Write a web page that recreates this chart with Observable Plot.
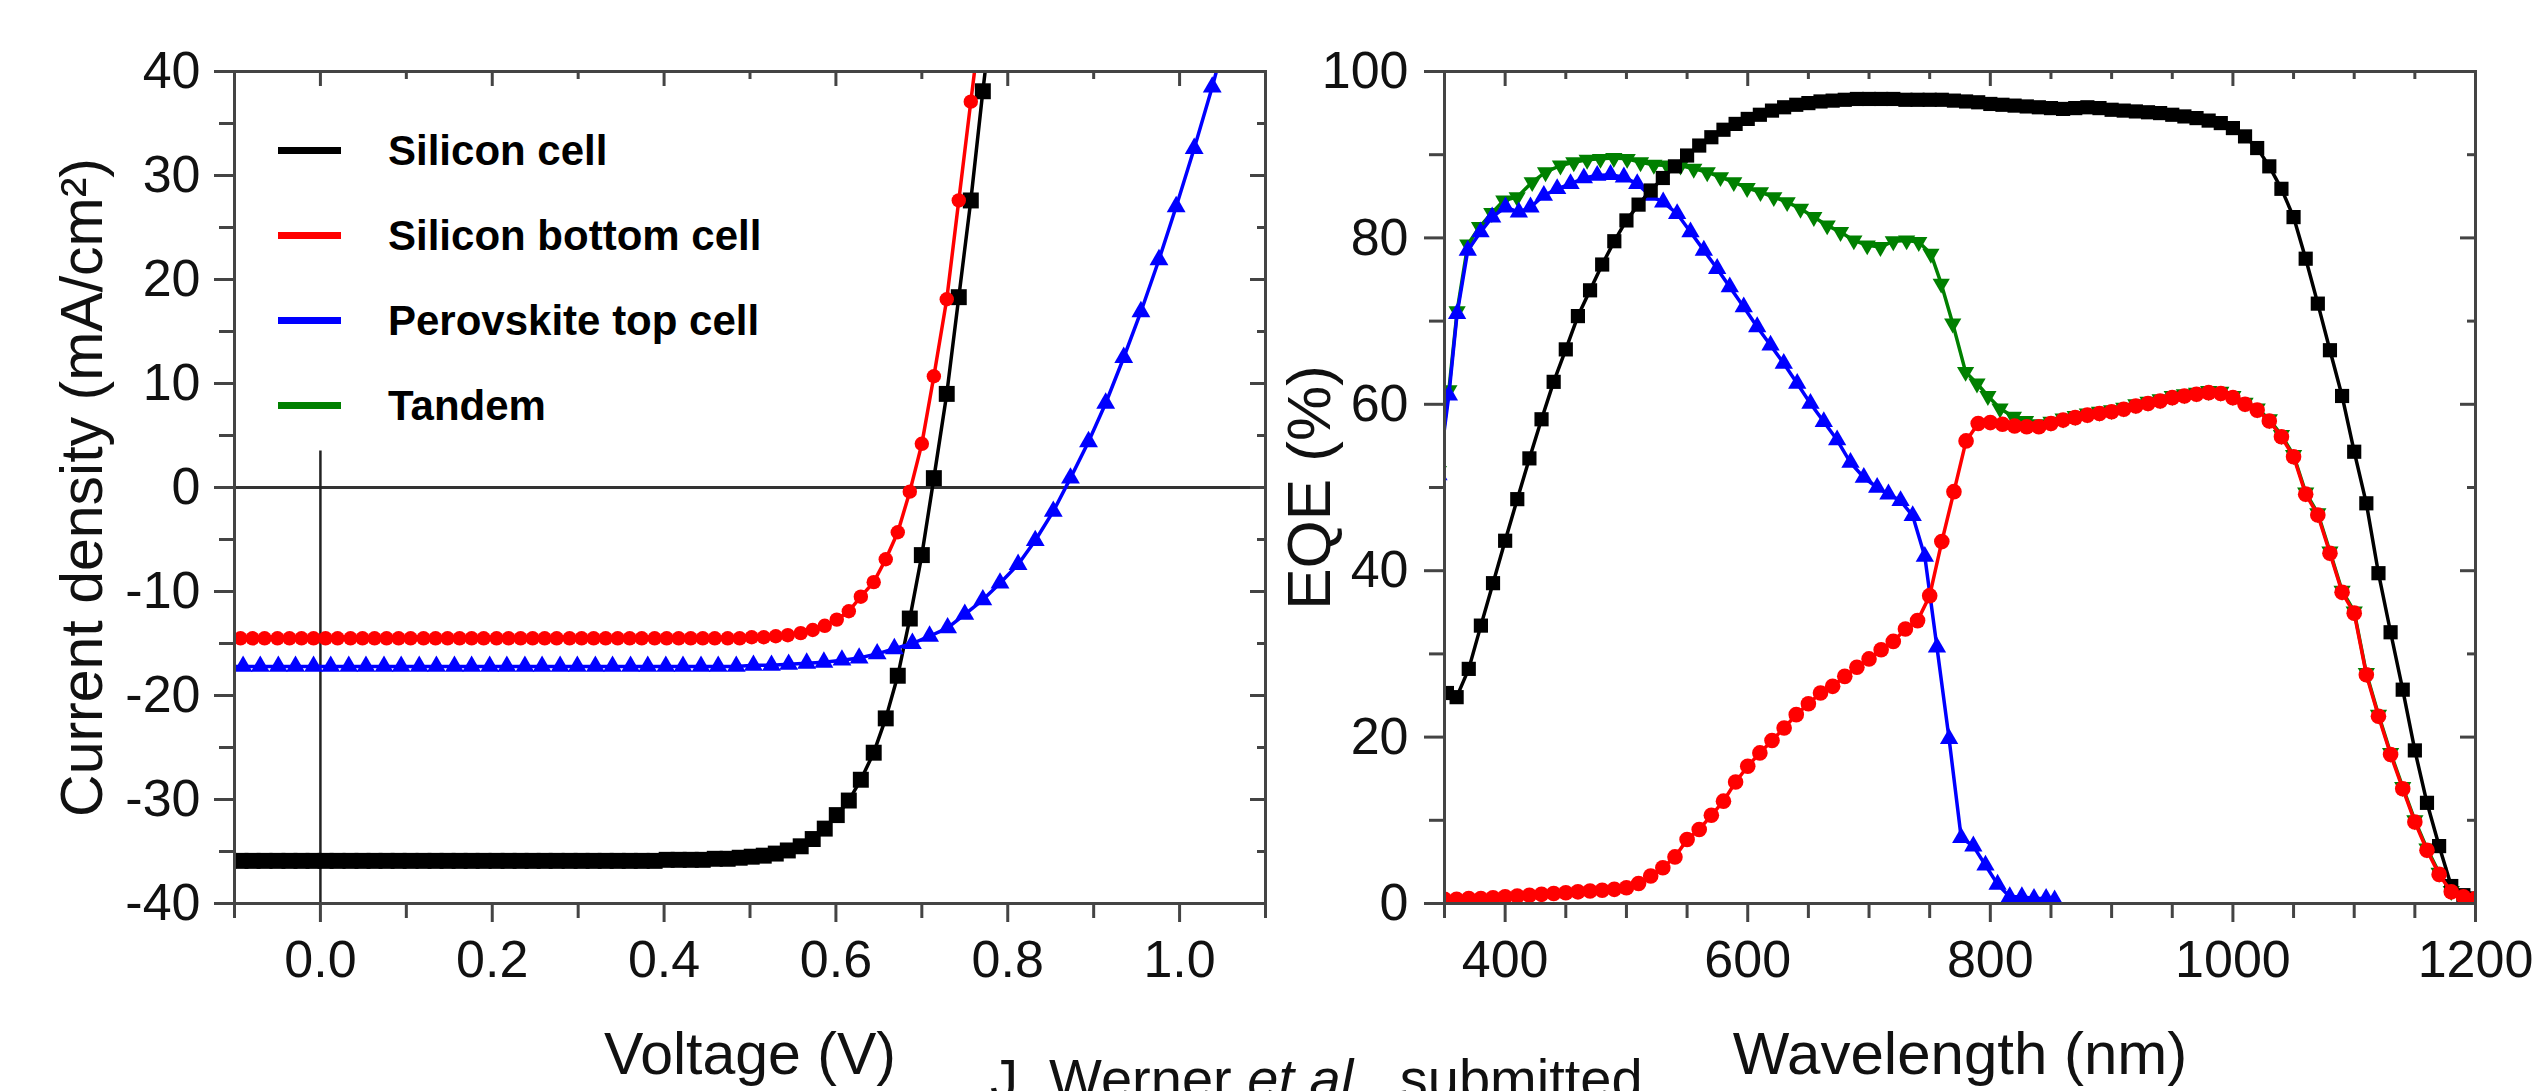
<!DOCTYPE html>
<html><head><meta charset="utf-8">
<script src="https://cdn.jsdelivr.net/npm/d3@7"></script>
<script src="https://cdn.jsdelivr.net/npm/@observablehq/plot@0.6"></script>
<style>
html,body{margin:0;padding:0;background:#fff;overflow:hidden;}
#wrap{position:relative;width:2538px;height:1091px;overflow:hidden;background:#fff;font-family:"Liberation Sans",Arial,Helvetica,sans-serif;}
#left,#right{position:absolute;top:0;}
#left{left:0;} #right{left:1300px;}
#legend{position:absolute;left:278px;top:108px;}
.row{display:flex;align-items:center;height:85px;}
.swatch{width:63px;height:7px;margin-right:47px;}
.lab{font-weight:bold;font-size:42px;line-height:1;color:#000;white-space:nowrap;}
#caption{position:absolute;left:990px;top:1051px;font-size:56px;line-height:1;color:#111;white-space:nowrap;}
</style></head>
<body>
<div id="wrap"><div id="left"></div><div id="right"></div><div id="legend"></div>
<div id="caption">J. Werner <i>et al.</i>, submitted</div></div>
<script>
// ---------------- DATA ----------------
const seriesNames = ["Silicon cell", "Silicon bottom cell", "Perovskite top cell", "Tandem"];
const seriesColors = ["#000000", "#ff0000", "#0000ff", "#008000"];

// J-V curves (left)
const voltageSi = [-0.107,-0.093,-0.079,-0.065,-0.050,-0.036,-0.022,-0.008,0.006,0.020,0.035,0.049,0.063,0.077,0.091,0.105,0.120,0.134,0.148,0.162,0.176,0.190,0.205,0.219,0.233,0.247,0.261,0.275,0.290,0.304,0.318,0.332,0.346,0.360,0.374,0.389,0.403,0.417,0.431,0.445,0.459,0.474,0.488,0.502,0.516,0.530,0.544,0.559,0.573,0.587,0.601,0.615,0.629,0.644,0.658,0.672,0.686,0.700,0.714,0.729,0.743,0.757,0.771,0.785];
const jSiliconCell = [-35.9,-35.9,-35.9,-35.9,-35.9,-35.9,-35.9,-35.9,-35.9,-35.9,-35.9,-35.9,-35.9,-35.9,-35.9,-35.9,-35.9,-35.9,-35.9,-35.9,-35.9,-35.9,-35.9,-35.9,-35.9,-35.9,-35.9,-35.9,-35.9,-35.9,-35.9,-35.9,-35.9,-35.9,-35.9,-35.9,-35.8,-35.8,-35.8,-35.8,-35.7,-35.7,-35.6,-35.5,-35.4,-35.2,-34.9,-34.5,-33.8,-32.8,-31.5,-30.1,-28.1,-25.5,-22.2,-18.1,-12.6,-6.5,0.9,9.0,18.3,27.6,38.1,48];
const jBottomCell = [-14.5,-14.5,-14.5,-14.5,-14.5,-14.5,-14.5,-14.5,-14.5,-14.5,-14.5,-14.5,-14.5,-14.5,-14.5,-14.5,-14.5,-14.5,-14.5,-14.5,-14.5,-14.5,-14.5,-14.5,-14.5,-14.5,-14.5,-14.5,-14.5,-14.5,-14.5,-14.5,-14.5,-14.5,-14.5,-14.5,-14.5,-14.5,-14.5,-14.5,-14.5,-14.5,-14.5,-14.4,-14.4,-14.3,-14.2,-14.0,-13.7,-13.3,-12.7,-11.9,-10.5,-9.1,-6.9,-4.3,-0.4,4.2,10.7,18.1,27.6,37.1,46.5,56];
const voltagePero = [-0.110,-0.090,-0.070,-0.049,-0.029,-0.008,0.012,0.033,0.053,0.074,0.094,0.115,0.135,0.156,0.176,0.197,0.217,0.238,0.258,0.279,0.299,0.320,0.340,0.361,0.381,0.402,0.422,0.443,0.463,0.484,0.504,0.525,0.545,0.566,0.586,0.607,0.627,0.648,0.668,0.689,0.709,0.730,0.750,0.771,0.791,0.812,0.832,0.853,0.873,0.894,0.914,0.935,0.955,0.976,0.996,1.017,1.038,1.059];
const jPeroTop = [-17.2,-17.2,-17.2,-17.2,-17.2,-17.2,-17.2,-17.2,-17.2,-17.2,-17.2,-17.2,-17.2,-17.2,-17.2,-17.2,-17.2,-17.2,-17.2,-17.2,-17.2,-17.2,-17.2,-17.2,-17.2,-17.2,-17.2,-17.2,-17.2,-17.2,-17.1,-17.1,-17.0,-16.9,-16.8,-16.6,-16.4,-16.0,-15.5,-15.0,-14.3,-13.5,-12.2,-10.8,-9.2,-7.4,-5.1,-2.3,0.9,4.4,8.1,12.5,16.9,21.9,27.0,32.6,38.5,45];

// EQE curves (right)
const wlSilicon = [352,360,370,380,390,400,410,420,430,440,450,460,470,480,490,500,510,520,530,540,550,560,570,580,590,600,610,620,630,640,650,660,670,680,690,700,710,720,730,740,750,760,770,780,790,800,810,820,830,840,850,860,870,880,890,900,910,920,930,940,950,960,970,980,990,1000,1010,1020,1030,1040,1050,1060,1070,1080,1090,1100,1110,1120,1130,1140,1150,1160,1170,1180,1190,1200];
const eqeSilicon = [25.3,24.8,28.2,33.4,38.5,43.6,48.6,53.5,58.2,62.7,66.6,70.6,73.7,76.8,79.6,82.1,84.0,85.7,87.2,88.6,89.9,91.1,92.1,93.0,93.7,94.3,94.8,95.3,95.7,96.0,96.2,96.4,96.5,96.6,96.7,96.7,96.7,96.7,96.6,96.6,96.6,96.6,96.5,96.4,96.3,96.1,96.0,95.9,95.8,95.7,95.6,95.5,95.6,95.7,95.6,95.4,95.3,95.2,95.1,95.0,94.8,94.6,94.4,94.1,93.8,93.2,92.2,90.8,88.6,85.9,82.5,77.5,72.1,66.5,61.0,54.3,48.1,39.7,32.6,25.7,18.4,12.1,6.9,2.1,1.0,0.6];
const wlBottom = [350,360,370,380,390,400,410,420,430,440,450,460,470,480,490,500,510,520,530,540,550,560,570,580,590,600,610,620,630,640,650,660,670,680,690,700,710,720,730,740,750,760,770,780,790,800,810,820,830,840,850,860,870,880,890,900,910,920,930,940,950,960,970,980,990,1000,1010,1020,1030,1040,1050,1060,1070,1080,1090,1100,1110,1120,1130,1140,1150,1160,1170,1180,1190,1200];
const eqeBottom = [0.5,0.5,0.6,0.6,0.7,0.8,0.9,1.0,1.1,1.2,1.3,1.4,1.5,1.6,1.7,1.9,2.4,3.3,4.3,5.6,7.7,8.9,10.6,12.3,14.6,16.5,18.1,19.6,21.1,22.7,24.0,25.3,26.1,27.3,28.4,29.4,30.5,31.5,33.0,34.0,37.0,43.5,49.5,55.6,57.7,57.8,57.6,57.4,57.3,57.3,57.7,58.1,58.4,58.7,58.9,59.1,59.4,59.8,60.1,60.4,60.8,61.0,61.2,61.4,61.3,60.8,60.0,59.3,58.0,56.1,53.7,49.2,46.7,42.1,37.4,34.9,27.5,22.5,17.9,13.8,9.8,6.4,3.5,1.4,0.8,0.6];
const wlPero = [345,353.6,360.4,369.2,379.7,389.3,400.3,411.3,420.9,431.9,442.9,453.9,464.9,475.9,486.9,497.9,508.9,519.3,530.3,541.8,552.8,563.8,574.8,585.2,596.7,607.8,618.8,629.7,640.8,651.7,662.7,673.7,684.7,695.7,706.7,716,726,736,746,756,766,776,786,796,806,816,826,836,846,853];
const eqePero = [51.5,61.1,70.9,78.5,80.7,82.5,83.7,83.1,83.7,85.1,85.9,86.5,87.2,87.5,87.6,87.3,86.5,85.1,84.3,82.9,80.7,78.5,76.3,74.1,71.7,69.3,67.1,64.9,62.5,60.1,57.9,55.7,53.0,51.2,50.0,49.2,48.4,46.6,41.7,30.8,19.8,7.9,6.9,4.6,2.3,0.8,0.8,0.6,0.6,0.4];
const wlTandem = [345,353.6,360.4,369.2,378.9,389,398.9,409.9,422.3,433.3,445.6,456.6,467.6,478.6,489.6,500.6,511.6,522.6,533.6,544.6,555.5,566.6,577.5,588.5,599.5,610.5,621.5,632.5,643.5,654.5,665.5,676.5,687.5,698.5,709.4,720,731,741,751,759.5,769,779.6,789,798,808,819,829,840,850,860,870,880,890,900,910,920,930,940,950,960,970,980,990,1000,1010,1020,1030,1040,1050,1060,1070,1080,1090,1100,1110,1120,1130,1140,1150,1160,1170,1180,1190,1200];
const eqeTandem = [52,61.7,71.2,79.2,81.3,83.0,84.5,84.9,86.7,87.9,88.7,89.1,89.4,89.5,89.6,89.5,89.1,88.8,88.7,88.7,88.3,87.9,87.3,86.7,86.0,85.5,84.9,84.3,83.5,82.5,81.5,80.7,79.7,79.1,78.9,79.6,79.7,79.5,78.1,74.5,69.7,63.9,62.5,61.0,59.5,58.5,58.0,57.6,57.9,58.3,58.6,58.9,59.1,59.3,59.6,60.0,60.3,60.6,61.0,61.2,61.4,61.6,61.5,61.0,60.2,59.5,58.2,56.3,53.9,49.4,46.9,42.3,37.6,35.1,27.7,22.7,18.1,14.0,10.0,6.6,3.7,1.5,0.8,0.6];

// axes / ticks
const ivXDomain = [-0.1, 1.1], ivYDomain = [-40, 40];
const ivXMajor = [0, 0.2, 0.4, 0.6, 0.8, 1.0];
const ivXMinor = [-0.1, 0.1, 0.3, 0.5, 0.7, 0.9, 1.1];
const ivYMajor = [-40, -30, -20, -10, 0, 10, 20, 30, 40];
const ivYMinor = [-35, -25, -15, -5, 5, 15, 25, 35];
const ivZeroLineY = [-40, 3.5];
const eqeXDomain = [350, 1200], eqeYDomain = [0, 100];
const eqeXMajor = [400, 600, 800, 1000, 1200];
const eqeXMinor = [350, 450, 500, 550, 650, 700, 750, 850, 900, 950, 1050, 1100, 1150];
const eqeYMajor = [0, 20, 40, 60, 80, 100];
const eqeYMinor = [10, 30, 50, 70, 90];

// --------------- RENDER ---------------
const FONT = '"Liberation Sans", Arial, Helvetica, sans-serif';
const AX = "#444";
const zip = (xs, ys) => xs.map((x, i) => ({x, y: ys[i]}));

function frameTicks(fw, fh, xMaj, xMin, yMaj, yMin, fmtX, fmtY, ylabDx) {
  const s = {stroke: AX, strokeWidth: 3};
  return [
    Plot.ruleX(xMaj, {...s, insetTop: fh, insetBottom: -19}),
    Plot.ruleX(xMin, {...s, insetTop: fh, insetBottom: -15}),
    Plot.ruleX(xMaj, {...s, insetBottom: fh - 15}),
    Plot.ruleX(xMin, {...s, insetBottom: fh - 8}),
    Plot.ruleY(yMaj, {...s, insetLeft: -20, insetRight: fw}),
    Plot.ruleY(yMin, {...s, insetLeft: -15, insetRight: fw}),
    Plot.ruleY(yMaj, {...s, insetLeft: fw - 15}),
    Plot.ruleY(yMin, {...s, insetLeft: fw - 8}),
    Plot.frame({stroke: AX, strokeWidth: 3}),
    Plot.text(xMaj, {x: d => d, frameAnchor: "bottom", lineAnchor: "top", dy: 37, text: fmtX, fontSize: 52, fill: "#111"}),
    Plot.text(yMaj, {y: d => d, frameAnchor: "left", textAnchor: "end", lineAnchor: "middle", dx: ylabDx, text: fmtY, fontSize: 52, fill: "#111"})
  ];
}

function series(data, color, symbol, r, extra = {}) {
  return [
    Plot.line(data, {x: "x", y: "y", stroke: color, strokeWidth: 3.5, clip: true}),
    Plot.dot(data, {x: "x", y: "y", fill: color, symbol, r, clip: true, ...extra})
  ];
}

// Left: J-V
{
  const W = 1300, H = 1091, mL = 234, mR = 35, mT = 71, mB = 188;
  const fw = W - mL - mR, fh = H - mT - mB;
  const svg = Plot.plot({
    width: W, height: H, marginLeft: mL, marginRight: mR, marginTop: mT, marginBottom: mB,
    x: {domain: ivXDomain, axis: null}, y: {domain: ivYDomain, axis: null},
    style: {fontFamily: FONT, background: "transparent", overflow: "visible", color: "#000"},
    marks: [
      Plot.ruleY([0], {stroke: "#333", strokeWidth: 3}),
      Plot.ruleX([0], {y1: ivZeroLineY[0], y2: ivZeroLineY[1], stroke: "#222", strokeWidth: 2.5}),
      ...series(zip(voltageSi, jSiliconCell), seriesColors[0], "square", 9),
      ...series(zip(voltageSi, jBottomCell), seriesColors[1], "circle", 7.2),
      ...series(zip(voltagePero, jPeroTop), seriesColors[2], "triangle", 7),
      ...frameTicks(fw, fh, ivXMajor, ivXMinor, ivYMajor, ivYMinor, d3.format(".1f"), d => String(d), -34),
      Plot.text(["Voltage (V)"], {frameAnchor: "bottom", textAnchor: "middle", lineAnchor: "bottom", dy: 170, dx: 0, fontSize: 59, fill: "#111"}),
      Plot.text(["Current density (mA/cm²)"], {frameAnchor: "left", textAnchor: "middle", rotate: -90, lineAnchor: "middle", dx: -151, fontSize: 59, fill: "#111"})
    ]
  });
  document.getElementById("left").appendChild(svg);
}

// Right: EQE
{
  const W = 1238, H = 1091, mL = 144, mR = 63, mT = 71, mB = 188;
  const fw = W - mL - mR, fh = H - mT - mB;
  const svg = Plot.plot({
    width: W, height: H, marginLeft: mL, marginRight: mR, marginTop: mT, marginBottom: mB,
    x: {domain: eqeXDomain, axis: null}, y: {domain: eqeYDomain, axis: null},
    style: {fontFamily: FONT, background: "transparent", overflow: "visible", color: "#000"},
    marks: [
      ...series(zip(wlTandem, eqeTandem), seriesColors[3], "triangle", 6.4, {rotate: 180}),
      ...series(zip(wlPero, eqePero), seriesColors[2], "triangle", 6.8),
      ...series(zip(wlSilicon, eqeSilicon), seriesColors[0], "square", 8),
      ...series(zip(wlBottom, eqeBottom), seriesColors[1], "circle", 7.8),
      ...frameTicks(fw, fh, eqeXMajor, eqeXMinor, eqeYMajor, eqeYMinor, d => String(d), d => String(d), -36),
      Plot.text(["Wavelength (nm)"], {frameAnchor: "bottom", textAnchor: "middle", lineAnchor: "bottom", dy: 170, dx: 0, fontSize: 60, fill: "#111"}),
      Plot.text(["EQE (%)"], {frameAnchor: "left", textAnchor: "middle", rotate: -90, lineAnchor: "middle", dx: -134, fontSize: 62, fill: "#111"})
    ]
  });
  document.getElementById("right").appendChild(svg);
}

// Legend
{
  const lg = document.getElementById("legend");
  seriesNames.forEach((name, i) => {
    const row = document.createElement("div"); row.className = "row";
    const sw = document.createElement("div"); sw.className = "swatch"; sw.style.background = seriesColors[i];
    const lab = document.createElement("div"); lab.className = "lab"; lab.textContent = name;
    row.appendChild(sw); row.appendChild(lab); lg.appendChild(row);
  });
}
</script>
</body></html>
